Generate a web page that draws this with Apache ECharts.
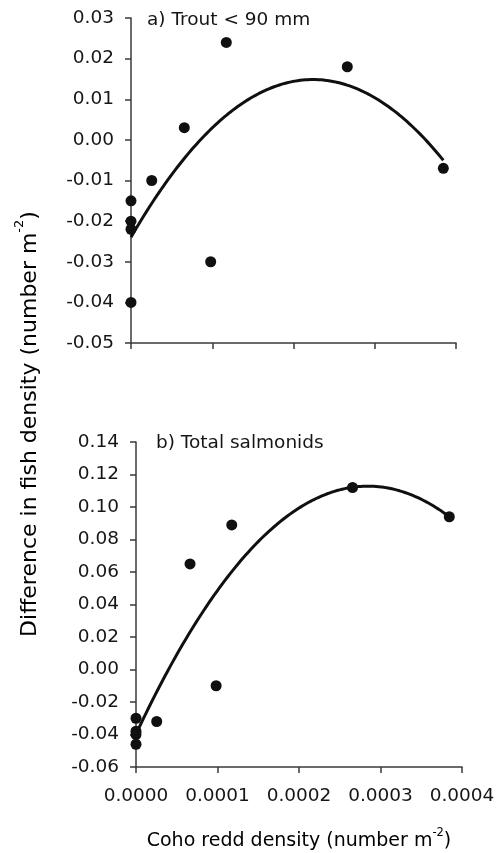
<!DOCTYPE html>
<html>
<head>
<meta charset="utf-8">
<script src="https://cdn.jsdelivr.net/npm/echarts@6/dist/echarts.min.js"></script>
<style>
  html, body { margin: 0; padding: 0; background: #ffffff; }
  #chart { width: 497px; height: 853px; }
</style>
</head>
<body>
<div id="chart"></div>
<script>
// Coho redd density (number m^-2) for each site
const troutX = [0, 0, 0, 0, 0.0000255, 0.0000656, 0.0000981, 0.0001173, 0.0002662, 0.0003844];
// a) Trout < 90 mm: difference in fish density (number m^-2)
const troutY = [-0.015, -0.020, -0.022, -0.040, -0.010, 0.003, -0.030, 0.024, 0.018, -0.007];

const totalX = [0, 0, 0, 0, 0.0000254, 0.0000663, 0.0000983, 0.0001175, 0.0002657, 0.0003844];
// b) Total salmonids: difference in fish density (number m^-2)
const totalY = [-0.030, -0.038, -0.040, -0.046, -0.032, 0.065, -0.010, 0.089, 0.112, 0.094];

// Axis ticks
const xTicks = { min: 0, max: 0.0004, step: 0.0001 };
const troutTicks = { min: -0.05, max: 0.03, step: 0.01 };
const totalTicks = { min: -0.06, max: 0.14, step: 0.02 };

const panelTitles = ['a) Trout < 90 mm', 'b) Total salmonids'];

// Second-order least-squares fit y = c0 + c1 x + c2 x^2
function quadFit(xs, ys) {
  const s = [0, 0, 0, 0, 0], t = [0, 0, 0];
  const scale = 1e4; // keep the normal equations well conditioned
  xs.forEach((x0, i) => {
    const x = x0 * scale;
    let p = 1;
    for (let k = 0; k < 5; k++) { s[k] += p; if (k < 3) t[k] += p * ys[i]; p *= x; }
  });
  const A = [[s[0], s[1], s[2], t[0]], [s[1], s[2], s[3], t[1]], [s[2], s[3], s[4], t[2]]];
  for (let i = 0; i < 3; i++) {
    for (let j = i + 1; j < 3; j++) {
      const f = A[j][i] / A[i][i];
      for (let k = i; k < 4; k++) A[j][k] -= f * A[i][k];
    }
  }
  const c = [0, 0, 0];
  for (let i = 2; i >= 0; i--) {
    let v = A[i][3];
    for (let k = i + 1; k < 3; k++) v -= A[i][k] * c[k];
    c[i] = v / A[i][i];
  }
  return x => { const u = x * scale; return c[0] + c[1] * u + c[2] * u * u; };
}

function trendLine(xs, ys) {
  const f = quadFit(xs, ys);
  const lo = Math.min(...xs), hi = Math.max(...xs);
  const pts = [];
  for (let i = 0; i <= 120; i++) {
    const x = lo + (hi - lo) * i / 120;
    pts.push([x, f(x)]);
  }
  return pts;
}

const pair = (xs, ys) => xs.map((x, i) => [x, ys[i]]);

const FONT = 'DejaVu Sans';
const AXIS_COLOR = '#3a3a3a';
const TEXT_COLOR = '#161616';
const MARK_COLOR = '#101010';

function fmt(dec) {
  return v => {
    const r = Math.abs(v) < 1e-12 ? 0 : v;
    return r.toFixed(dec);
  };
}

function xAxisCfg(gridIndex, showLabels) {
  return {
    type: 'value', gridIndex,
    min: xTicks.min, max: xTicks.max, interval: xTicks.step,
    axisLine: { onZero: false, lineStyle: { color: AXIS_COLOR, width: 1.5 } },
    axisTick: { show: true, inside: false, length: 6, lineStyle: { color: AXIS_COLOR, width: 1.5 } },
    axisLabel: { show: showLabels, formatter: fmt(4), fontFamily: FONT, fontSize: 18.5, color: TEXT_COLOR, margin: 20 },
    splitLine: { show: false }
  };
}

function yAxisCfg(gridIndex, ticks) {
  return {
    type: 'value', gridIndex,
    min: ticks.min, max: ticks.max, interval: ticks.step,
    axisLine: { show: true, onZero: false, lineStyle: { color: AXIS_COLOR, width: 1.5 } },
    axisTick: { show: true, inside: false, length: 6, lineStyle: { color: AXIS_COLOR, width: 1.5 } },
    axisLabel: { formatter: fmt(2), fontFamily: FONT, fontSize: 18.5, color: TEXT_COLOR, margin: 17 },
    splitLine: { show: false }
  };
}

const chart = echarts.init(document.getElementById('chart'), null, { renderer: 'canvas' });

chart.setOption({
  backgroundColor: '#ffffff',
  animation: false,
  grid: [
    { left: 131, top: 18, width: 325, height: 325, outerBoundsMode: 'none' },
    { left: 136, top: 442, width: 326, height: 325, outerBoundsMode: 'none' }
  ],
  xAxis: [xAxisCfg(0, false), xAxisCfg(1, true)],
  yAxis: [yAxisCfg(0, troutTicks), yAxisCfg(1, totalTicks)],
  series: [
    {
      type: 'line', xAxisIndex: 0, yAxisIndex: 0, data: trendLine(troutX, troutY),
      showSymbol: false, smooth: false, lineStyle: { color: MARK_COLOR, width: 3 }, z: 2
    },
    {
      type: 'scatter', xAxisIndex: 0, yAxisIndex: 0, data: pair(troutX, troutY),
      symbol: 'circle', symbolSize: 11, itemStyle: { color: MARK_COLOR, opacity: 1 }, z: 3
    },
    {
      type: 'line', xAxisIndex: 1, yAxisIndex: 1, data: trendLine(totalX, totalY),
      showSymbol: false, smooth: false, lineStyle: { color: MARK_COLOR, width: 3 }, z: 2
    },
    {
      type: 'scatter', xAxisIndex: 1, yAxisIndex: 1, data: pair(totalX, totalY),
      symbol: 'circle', symbolSize: 11, itemStyle: { color: MARK_COLOR, opacity: 1 }, z: 3
    }
  ],
  graphic: [
    {
      type: 'text', left: 147, top: 11,
      style: { text: panelTitles[0], font: '18.5px "DejaVu Sans"', fill: TEXT_COLOR }
    },
    {
      type: 'text', left: 156, top: 434,
      style: { text: panelTitles[1], font: '18.5px "DejaVu Sans"', fill: TEXT_COLOR }
    },
    {
      type: 'text', x: 299, y: 839,
      style: {
        text: '{n|Coho redd density (number m}{s|-2}{n|)}',
        align: 'center', verticalAlign: 'middle',
        rich: {
          n: { fontFamily: FONT, fontSize: 19, color: TEXT_COLOR, lineHeight: 24, verticalAlign: 'bottom' },
          s: { fontFamily: FONT, fontSize: 11.5, color: TEXT_COLOR, lineHeight: 24, verticalAlign: 'top' }
        }
      }
    },
    {
      type: 'text', x: 27, y: 424, rotation: Math.PI / 2,
      style: {
        text: '{n|Difference in fish density (number m}{s|-2}{n|)}',
        align: 'center', verticalAlign: 'middle',
        rich: {
          n: { fontFamily: FONT, fontSize: 22, color: TEXT_COLOR, lineHeight: 28, verticalAlign: 'bottom' },
          s: { fontFamily: FONT, fontSize: 13, color: TEXT_COLOR, lineHeight: 28, verticalAlign: 'top' }
        }
      }
    }
  ]
});
</script>
</body>
</html>
